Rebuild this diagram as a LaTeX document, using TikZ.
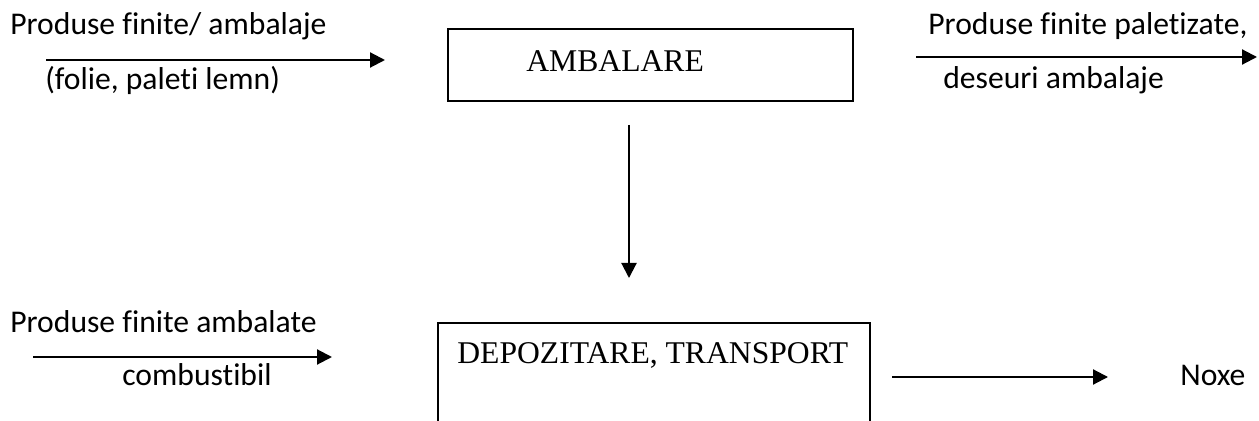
\documentclass[tikz,border=0pt]{standalone}
\usepackage{fontspec}
\setmainfont[Ligatures=NoCommon]{Carlito}
\newfontfamily\boxfont{Liberation Serif}
\usetikzlibrary{arrows.meta}

\begin{document}
\begin{tikzpicture}[>={Triangle[length=3mm,width=3mm]},
  font=\fontsize{18}{22}\selectfont,
  proc/.style={draw, line width=1.2pt, inner sep=0pt},
  flow/.style={->, line width=1.2pt},
  txt/.style={anchor=base west, inner sep=0pt},
  boxtxt/.style={txt, font=\boxfont\fontsize{18}{22}\selectfont}]
\clip (0,0) rectangle (25.18,8.4);
% sus: ambalare
\node[txt] (inTop) at (0.2,7.7) {Produse finite/ ambalaje};
\node[txt] (inTopB) at (0.9,6.6) {(folie, paleti lemn)};
\coordinate (a1s) at (0.92,7.2);
\coordinate (a1e) at (7.70,7.2);
\draw[flow] (a1s) -- (a1e);
\node[proc, minimum width=8.1cm, minimum height=1.44cm] (ambalare) at (13.01,7.1) {};
\node[boxtxt] (ambalareTxt) at (10.52,6.96) {AMBALARE};
\node[txt] (outTop) at (18.56,7.7) {Produse finite paletizate,};
\node[txt] (outTopB) at (18.86,6.62) {deseuri ambalaje};
\coordinate (a2s) at (18.32,7.26);
\coordinate (a2e) at (25.14,7.26);
\draw[flow] (a2s) -- (a2e);
% legatura intre etape
\coordinate (vs) at (12.58,5.9);
\coordinate (ve) at (12.58,2.84);
\draw[flow] (vs) -- (ve);
% jos: depozitare, transport
\node[txt] (inBot) at (0.2,1.76) {Produse finite ambalate};
\node[txt] (inBotB) at (2.44,0.7) {combustibil};
\coordinate (a3s) at (0.66,1.26);
\coordinate (a3e) at (6.64,1.26);
\draw[flow] (a3s) -- (a3e);
\node[proc, minimum width=8.64cm, minimum height=2.6cm, anchor=north west] (depozitare) at (8.74,1.96) {};
\node[boxtxt] (depozitareTxt) at (9.14,1.14) {DEPOZITARE, TRANSPORT};
\coordinate (a4s) at (17.84,0.86);
\coordinate (a4e) at (22.16,0.86);
\draw[flow] (a4s) -- (a4e);
\node[txt] (noxe) at (23.6,0.7) {Noxe};
\end{tikzpicture}
\end{document}
